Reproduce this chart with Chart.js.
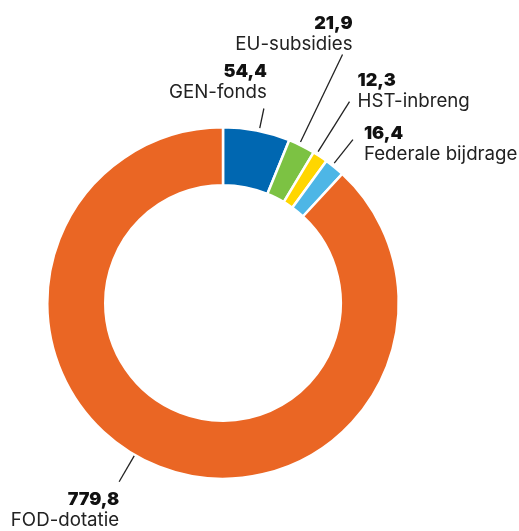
<!DOCTYPE html>
<html><head><meta charset="utf-8">
<script src="https://cdn.jsdelivr.net/npm/chart.js@4/dist/chart.umd.min.js"></script>
<style>html,body{margin:0;padding:0;background:#fff}#wrap{width:519px;height:531px;position:relative}</style>
</head><body><div id="wrap"><canvas id="c"></canvas></div>
<script>
const categories = ["GEN-fonds", "EU-subsidies", "HST-inbreng", "Federale bijdrage", "FOD-dotatie"];
const values = [54.4, 21.9, 12.3, 16.4, 779.8];
const colors = ["#0067b1", "#7cc243", "#ffd600", "#4db6e6", "#ea6624"];

// label styling: leader line radii (from outer edge), angle tweak (deg), text anchor offsets, alignment
const labelStyle = [
  {r1: 3, r2: 23, dAng: 0.8, dx: 3, dy: -10, align: "right"},
  {r1: 3, r2: 100, dAng: -0.9, dx: 10, dy: -5, align: "right"},
  {r1: 3, r2: 62, dAng: -1.4, dx: 8, dy: 5, align: "left"},
  {r1: 3, r2: 33, dAng: -0.9, dx: 11, dy: 20, align: "left"},
  {r1: 1, r2: 31, dAng: 8.8, dx: 0, dy: 44, align: "right"}
];

const fmt = v => v.toFixed(1).replace(".", ",");

const labelPlugin = {
  id: "leaderLabels",
  afterDatasetsDraw(chart) {
    const ctx = chart.ctx;
    const meta = chart.getDatasetMeta(0);
    meta.data.forEach((arc, i) => {
      const st = labelStyle[i];
      const p = arc.getProps(["x", "y", "startAngle", "endAngle", "outerRadius"], true);
      const a = (p.startAngle + p.endAngle) / 2 + st.dAng * Math.PI / 180;
      const x1 = p.x + Math.cos(a) * (p.outerRadius + st.r1);
      const y1 = p.y + Math.sin(a) * (p.outerRadius + st.r1);
      const x2 = p.x + Math.cos(a) * (p.outerRadius + st.r2);
      const y2 = p.y + Math.sin(a) * (p.outerRadius + st.r2);
      ctx.save();
      ctx.strokeStyle = "#222";
      ctx.lineWidth = 1.3;
      ctx.beginPath(); ctx.moveTo(x1, y1); ctx.lineTo(x2, y2); ctx.stroke();
      const tx = x2 + st.dx;
      const ty = y2 + st.dy; // baseline of name line
      ctx.textAlign = st.align;
      ctx.textBaseline = "alphabetic";
      ctx.fillStyle = "#111";
      ctx.font = "900 18px Inter";
      ctx.fillText(fmt(values[i]), tx, ty - 21);
      ctx.fillStyle = "#222";
      ctx.font = "400 18.7px Inter";
      ctx.fillText(categories[i], tx, ty);
      ctx.restore();
    });
  }
};

new Chart(document.getElementById("c"), {
  type: "doughnut",
  data: {
    labels: categories,
    datasets: [{
      data: values,
      backgroundColor: colors,
      borderColor: "#fff",
      borderWidth: 2.5,
      hoverOffset: 0
    }]
  },
  options: {
    responsive: true,
    maintainAspectRatio: false,
    animation: false,
    cutout: "67%",
    rotation: 0,
    layout: {padding: {left: 46, right: 119, top: 126, bottom: 51}},
    plugins: {legend: {display: false}, tooltip: {enabled: false}}
  },
  plugins: [labelPlugin]
});
</script></body></html>
